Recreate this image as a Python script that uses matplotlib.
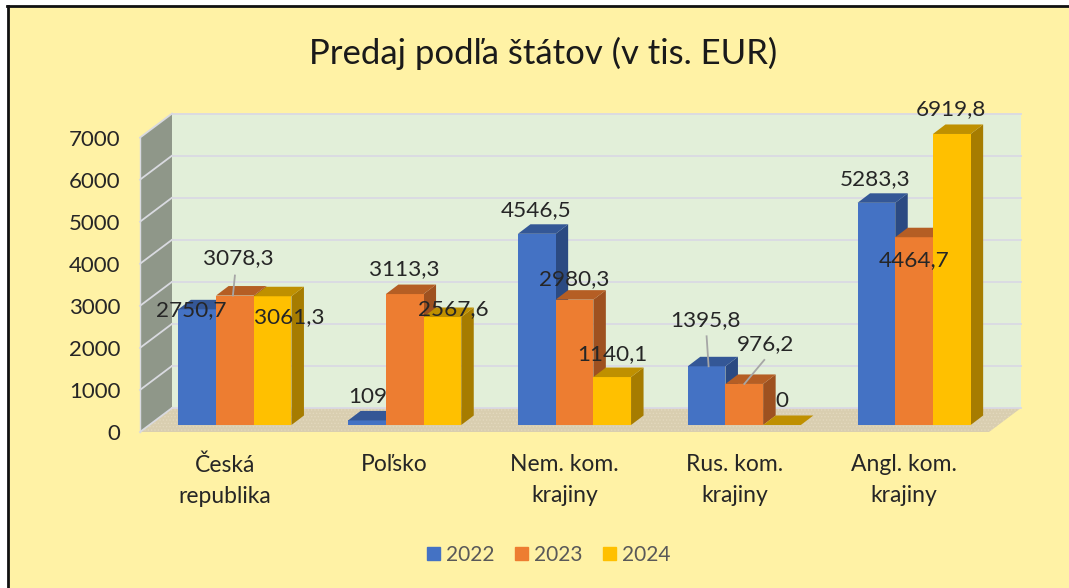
import matplotlib
matplotlib.use("Agg")
import matplotlib.pyplot as plt
from matplotlib.patches import Patch, Rectangle

plt.rcParams['font.family'] = ['Lato', 'DejaVu Sans']
plt.rcParams['hatch.linewidth'] = 0.6

categories = ['Česká\nrepublika', 'Poľsko', 'Nem. kom.\nkrajiny', 'Rus. kom.\nkrajiny', 'Angl. kom.\nkrajiny']
years = ['2022', '2023', '2024']
v2022 = [2750.7, 109, 4546.5, 1395.8, 5283.3]
v2023 = [3078.3, 3113.3, 2980.3, 976.2, 4464.7]
v2024 = [3061.3, 2567.6, 1140.1, 0, 6919.8]
labels2022 = ['2750,7', '109', '4546,5', '1395,8', '5283,3']
labels2023 = ['3078,3', '3113,3', '2980,3', '976,2', '4464,7']
labels2024 = ['3061,3', '2567,6', '1140,1', '0', '6919,8']
yticks = [0, 1000, 2000, 3000, 4000, 5000, 6000, 7000]

W, H = 1069, 588
fig = plt.figure(figsize=(W / 100, H / 100), dpi=100, facecolor='white')

# yellow card with the black border on top and left only
fig.patches.append(Rectangle((8 / W, 0), 1 - 8 / W, 1 - 6 / H, transform=fig.transFigure,
                             fc='#FFF2A5', ec='none', zorder=-2))
fig.add_artist(plt.Line2D([8 / W, 8 / W], [0, 1 - 6 / H], color='#111111', lw=2, zorder=-1))
fig.add_artist(plt.Line2D([7 / W, 1], [1 - 6 / H, 1 - 6 / H], color='#111111', lw=2, zorder=-1))

# axes = front plane of the floor, px 140..989 and y 432 up to 7000
ax = fig.add_axes([140 / W, 1 - 432 / H, 849 / W, 294.4 / H])
ax.set_xlim(-0.5, 4.5)
ax.set_ylim(0, 7000)
ax.patch.set_visible(False)
for s in ax.spines.values():
    s.set_visible(False)

px_x = 5 / 849
px_y = 7000 / 294.4
wall_dx, wall_dy = 32 * px_x, 24 * px_y
depth_x, depth_y = 12.5 * px_x, 9.5 * px_y
bar_lift = 7 * px_y
bar_shift = 10 * px_x
bar_w = 37.7 * px_x

xl, xr = -0.5, 4.5
ax.fill([xl + wall_dx, xr + wall_dx, xr + wall_dx, xl + wall_dx],
        [wall_dy, wall_dy, 7000 + wall_dy, 7000 + wall_dy],
        color='#E2EFD9', lw=0, clip_on=False, zorder=1)
ax.fill([xl, xl + wall_dx, xl + wall_dx, xl], [0, wall_dy, 7000 + wall_dy, 7000],
        color='#8F9789', lw=0, clip_on=False, zorder=1)
ax.fill([xl, xr, xr + wall_dx, xl + wall_dx], [0, 0, wall_dy, wall_dy],
        facecolor='#D9CEB0', edgecolor='#E3D9BE', hatch='.....', lw=0, clip_on=False, zorder=1)
for v in yticks:
    ax.plot([xl + wall_dx, xr + wall_dx], [v + wall_dy, v + wall_dy], color='#DAD9E3', lw=1.3,
            clip_on=False, zorder=2)
    ax.plot([xl, xl + wall_dx], [v, v + wall_dy], color='#D9DAE0', lw=1.3, clip_on=False, zorder=2)
ax.plot([xl, xl], [0, 7000], color='#D9DAE0', lw=1, clip_on=False, zorder=2)

series = [v2022, v2023, v2024]
faces = ['#4472C4', '#ED7D31', '#FFC000']
tops = ['#345796', '#B55E24', '#BF9000']
sides = ['#2B4A82', '#9E5120', '#A67C00']
z = 3
for i in range(len(categories)):
    for k, vals in enumerate(series):
        x0 = i + bar_shift + (k - 1.5) * bar_w
        x1 = x0 + bar_w
        y0 = bar_lift
        y1 = bar_lift + vals[i]
        ax.bar(x0, vals[i], bar_w, bottom=y0, align='edge', color=faces[k], lw=0, clip_on=False, zorder=z + 2)
        ax.fill([x1, x1 + depth_x, x1 + depth_x, x1], [y0, y0 + depth_y, y1 + depth_y, y1],
                color=sides[k], lw=0, clip_on=False, zorder=z + 1)
        ax.fill([x0, x1, x1 + depth_x, x0 + depth_x], [y1, y1, y1 + depth_y, y1 + depth_y],
                color=tops[k], lw=0, clip_on=False, zorder=z + 2)
        z += 3

# label offset from front-top centre of its bar, in pixels
label_off = {
    (0, 0): (-6, -1), (0, 1): (3, 37), (0, 2): (17, -21),
    (1, 0): (1, 23), (1, 1): (0, 25), (1, 2): (11, 8),
    (2, 0): (-1, 24), (2, 1): (0, 21), (2, 2): (0, 23),
    (3, 0): (-1, 46), (3, 1): (21, 40), (3, 2): (0, 24),
    (4, 0): (-1, 24), (4, 1): (0, -23), (4, 2): (-1, 25),
}
leaders = {(0, 1): ((-2, 0), (0, 20)), (3, 0): ((2, 0), (0, 30)), (3, 1): ((0, 0), (20, 24))}
all_labels = [labels2022, labels2023, labels2024]
inv = ax.transData.inverted()
for (i, k), off in label_off.items():
    xc = i + bar_shift + (k - 1) * bar_w
    yt = bar_lift + series[k][i]
    ax.annotate(all_labels[k][i], (xc, yt), xytext=off, textcoords='offset pixels', ha='center',
                va='center', fontsize=16.2, color='#262626', annotation_clip=False, zorder=200)
    if (i, k) in leaders:
        a, b = leaders[(i, k)]
        p0 = ax.transData.transform((xc, yt))
        q0 = inv.transform((p0[0] + a[0], p0[1] + a[1]))
        q1 = inv.transform((p0[0] + b[0], p0[1] + b[1]))
        ax.plot([q0[0], q1[0]], [q0[1], q1[1]], color='#A6A6A6', lw=1.3, clip_on=False, zorder=190)

ax.set_xticks(range(len(categories)))
ax.set_xticklabels(categories, fontsize=16.5, color='#262626', linespacing=1.6)
ax.set_yticks(yticks)
ax.set_yticklabels([str(v) for v in yticks], fontsize=16, color='#262626')
ax.tick_params(axis='x', length=0, pad=16)
ax.tick_params(axis='y', length=0, pad=14)

fig.text(543 / W, 1 - 53 / H, 'Predaj podľa štátov (v tis. EUR)', ha='center', va='center',
         fontsize=25, color='#1A1A1A')

handles = [Patch(color=c) for c in faces]
fig.legend(handles, years, loc='center', bbox_to_anchor=(549 / W, 1 - 555 / H), ncol=3, frameon=False,
           fontsize=15, labelcolor='#595959', handlelength=0.62, handleheight=0.62,
           handletextpad=0.29, columnspacing=0.98)

fig.savefig('out.png', dpi=100, facecolor='white')
